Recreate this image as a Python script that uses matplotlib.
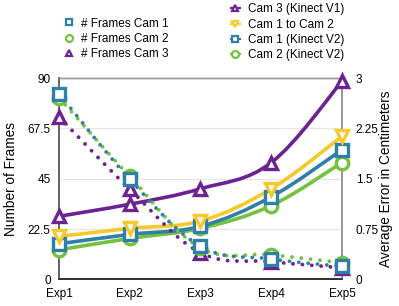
import matplotlib
matplotlib.use("Agg")
import matplotlib.pyplot as plt
import numpy as np
from matplotlib.path import Path
from matplotlib.patches import PathPatch
from matplotlib.lines import Line2D

plt.rcParams['font.family'] = ['Liberation Sans', 'DejaVu Sans']

exps = ['Exp1', 'Exp2', 'Exp3', 'Exp4', 'Exp5']

# number of frames (left axis, dotted)
frames_cam1 = [83.0, 44.8, 14.8, 9.1, 5.8]
frames_cam2 = [81.2, 46.0, 14.0, 11.0, 7.4]
frames_cam3 = [72.6, 40.3, 11.9, 7.9, 5.2]

# average error (right axis, solid)
err_cam3_v1 = [0.94, 1.12, 1.35, 1.74, 2.95]
err_cam1_to_cam2 = [0.64, 0.76, 0.87, 1.35, 2.13]
err_cam1_v2 = [0.53, 0.67, 0.79, 1.23, 1.93]
err_cam2_v2 = [0.44, 0.61, 0.76, 1.10, 1.74]

left_ticks = [0, 22.5, 45, 67.5, 90]
left_labels = ['0', '22.5', '45', '67.5', '90']
right_ticks = [0, 0.75, 1.5, 2.25, 3]
right_labels = ['0', '0.75', '1.5', '2.25', '3']

blue = '#2f7fa8'
green = '#73c23d'
purple = '#6b2390'
yellow = '#f5c92a'


def smooth_path(xs, ys, t=0.18):
    # catmull-rom style bezier through the given points
    xs = np.asarray(xs, float)
    ys = np.asarray(ys, float)
    verts = [(xs[0], ys[0])]
    codes = [Path.MOVETO]
    n = len(xs)
    for i in range(n - 1):
        p0 = (xs[max(i - 1, 0)], ys[max(i - 1, 0)])
        p1 = (xs[i], ys[i])
        p2 = (xs[i + 1], ys[i + 1])
        p3 = (xs[min(i + 2, n - 1)], ys[min(i + 2, n - 1)])
        c1 = (p1[0] + (p2[0] - p0[0]) * t, p1[1] + (p2[1] - p0[1]) * t)
        c2 = (p2[0] - (p3[0] - p1[0]) * t, p2[1] - (p3[1] - p1[1]) * t)
        verts += [c1, c2, p2]
        codes += [Path.CURVE4] * 3
    return Path(verts, codes)


fig = plt.figure(figsize=(3.99, 3.06), dpi=100)
ax = fig.add_axes([0.148, 0.087, 0.709, 0.658])
ax2 = ax.twinx()

x = np.arange(len(exps))

# error curves (solid)
for vals, col, mk in [(err_cam2_v2, green, 'o'), (err_cam1_v2, blue, 's'),
                      (err_cam1_to_cam2, yellow, 'v'), (err_cam3_v1, purple, '^')]:
    ax2.add_patch(PathPatch(smooth_path(x, vals), fill=False, edgecolor=col,
                            lw=2.6, zorder=2))
    ax2.plot(x, vals, ls='none', marker=mk, ms=9, mew=2.4, mec=col,
             mfc='white', zorder=3, clip_on=False)

# frame curves (dotted), drawn on the error axis scaled 90 -> 3
for vals, col, mk in [(frames_cam3, purple, '^'), (frames_cam2, green, 'o'),
                      (frames_cam1, blue, 's')]:
    ax2.add_patch(PathPatch(smooth_path(x, np.array(vals) / 30.0), fill=False,
                            edgecolor=col, lw=2.8, linestyle=(0, (0.01, 2.4)),
                            capstyle='round', zorder=2))
    ax2.plot(x, np.array(vals) / 30.0, ls='none', marker=mk, ms=9, mew=2.4,
             mec=col, mfc='white', zorder=3, clip_on=False)

ax.set_xlim(0, 4)
ax.set_ylim(0, 90)
ax2.set_ylim(0, 3)
ax.set_xticks(x)
ax.set_xticklabels(exps, fontsize=8.5)
ax.set_yticks(left_ticks)
ax.set_yticklabels(left_labels, fontsize=8.5)
ax2.set_yticks(right_ticks)
ax2.set_yticklabels(right_labels, fontsize=8.5)
ax.tick_params(length=0, pad=6)
ax2.tick_params(length=0, pad=10)
ax.yaxis.grid(True, color='#e6e6e6', lw=0.8)
ax.set_axisbelow(True)

for a in (ax, ax2):
    a.spines['top'].set_color('#999999')
    a.spines['right'].set_color('#999999')
    a.spines['left'].set_color('#666666')
    a.spines['bottom'].set_color('#333333')
    a.spines['left'].set_linewidth(1.3)
    a.spines['right'].set_linewidth(1.3)
    a.spines['top'].set_linewidth(1)
    a.spines['bottom'].set_linewidth(1.3)

ax.set_ylabel('Number of Frames', fontsize=9.8)
ax.yaxis.set_label_coords(-0.145, 0.5)
ax2.set_ylabel('Average Error in Centimeters', fontsize=9.8)
ax2.yaxis.set_label_coords(1.131, 0.5)

# legends
h_left = [Line2D([], [], ls='none', marker='s', ms=5, mew=1.6, mec=blue, mfc='white'),
          Line2D([], [], ls='none', marker='o', ms=5, mew=1.6, mec=green, mfc='white'),
          Line2D([], [], ls='none', marker='^', ms=5, mew=1.6, mec=purple, mfc='white')]
leg1 = fig.legend(h_left, ['# Frames Cam 1', '# Frames Cam 2', '# Frames Cam 3'],
                  loc='upper left', bbox_to_anchor=(0.148, 0.962), frameon=False,
                  fontsize=8.5, handlelength=0.7, handletextpad=0.7,
                  labelspacing=0.28, borderpad=0)
h_right = [Line2D([], [], color=purple, lw=1.5, marker='^', ms=5, mew=1.6, mec=purple, mfc='white'),
           Line2D([], [], color=yellow, lw=1.5, marker='v', ms=5, mew=1.6, mec=yellow, mfc='white'),
           Line2D([], [], color=blue, lw=1.5, marker='s', ms=5, mew=1.6, mec=blue, mfc='white'),
           Line2D([], [], color=green, lw=1.5, marker='o', ms=5, mew=1.6, mec=green, mfc='white')]
leg2 = fig.legend(h_right, ['Cam 3 (Kinect V1)', 'Cam 1 to Cam 2',
                            'Cam 1 (Kinect V2)', 'Cam 2 (Kinect V2)'],
                  loc='upper left', bbox_to_anchor=(0.565, 1.008), frameon=False,
                  fontsize=8.5, handlelength=0.7, handletextpad=0.7,
                  labelspacing=0.28, borderpad=0)

fig.savefig('out.png', dpi=100)
